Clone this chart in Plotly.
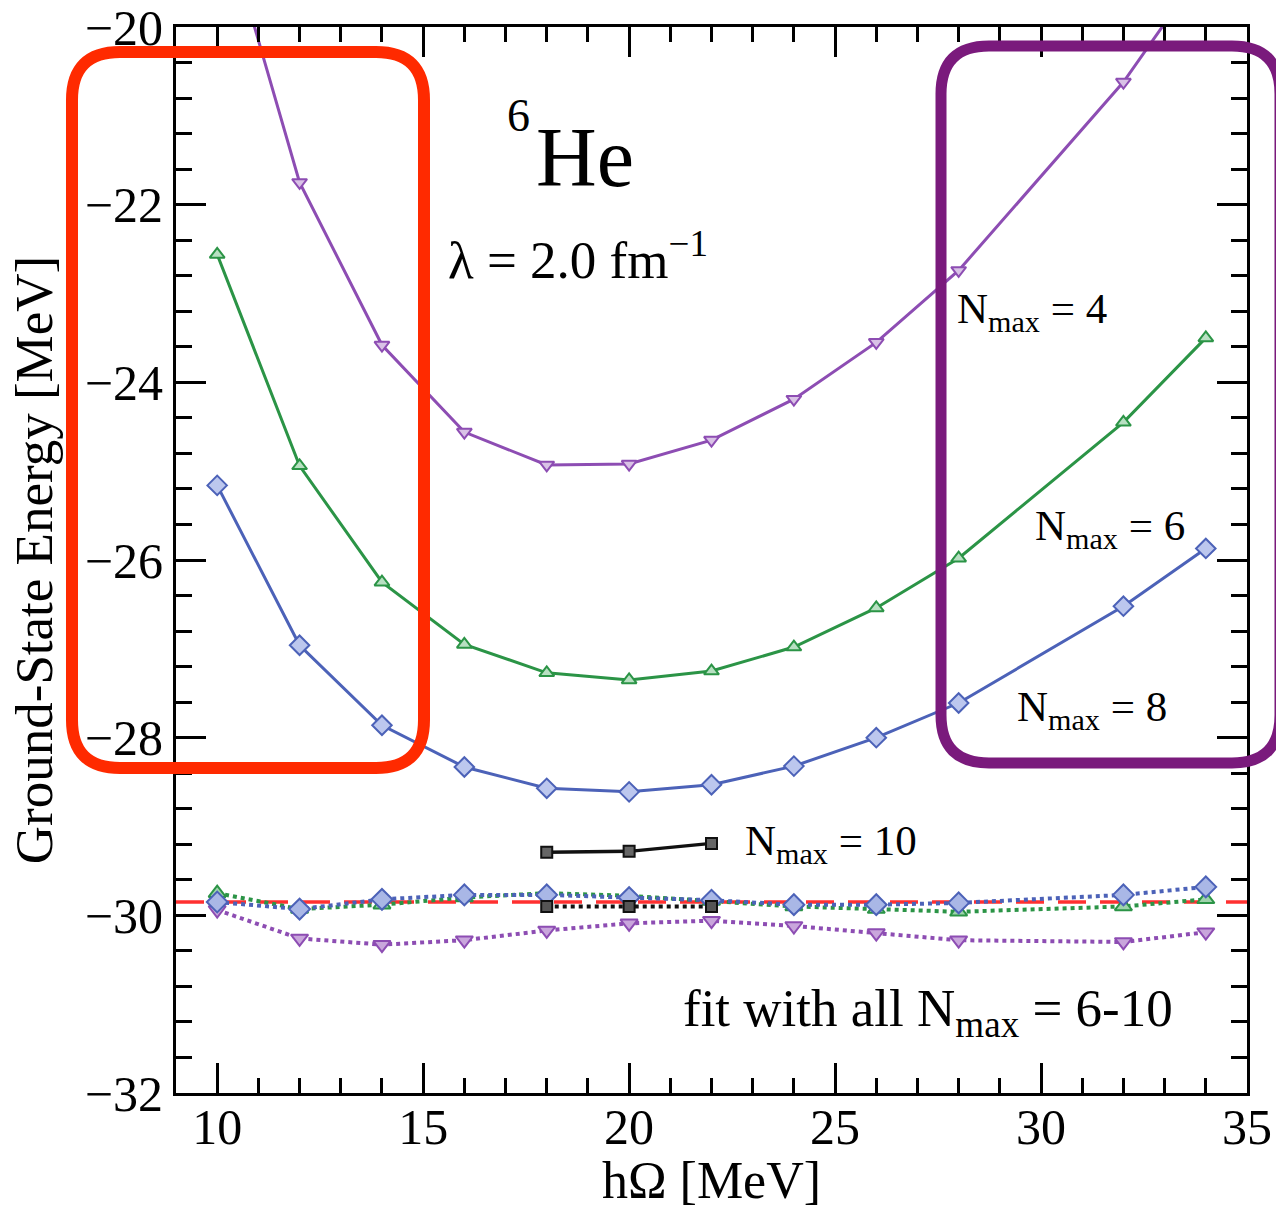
import plotly.graph_objects as go

# ---------------- data ----------------
hw = [10, 12, 14, 16, 18, 20, 22, 24, 26, 28, 32, 34]
e_n4 = [-18.55, -21.75, -23.58, -24.56, -24.93, -24.92, -24.65, -24.19, -23.55, -22.74, -20.62, -19.3]
e_n6 = [-22.56, -24.94, -26.25, -26.95, -27.27, -27.35, -27.25, -26.98, -26.54, -25.98, -24.45, -23.50]
e_n8 = [-25.16, -26.96, -27.86, -28.33, -28.57, -28.61, -28.53, -28.32, -28.00, -27.61, -26.52, -25.87]
hw_n10 = [18, 20, 22]
e_n10 = [-29.29, -29.28, -29.19]

fit_n4 = [-29.94, -30.26, -30.33, -30.28, -30.17, -30.09, -30.06, -30.12, -30.20, -30.28, -30.30, -30.19]
fit_n6 = [-29.75, -29.93, -29.88, -29.80, -29.75, -29.78, -29.84, -29.90, -29.93, -29.96, -29.90, -29.82]
fit_n8 = [-29.85, -29.93, -29.82, -29.77, -29.77, -29.80, -29.83, -29.88, -29.88, -29.86, -29.77, -29.68]
fit_n10 = [-29.90, -29.90, -29.90]

fit_span = [9, 35]
fit_value = [-29.85, -29.85]

# ---------------- styling ----------------
PURPLE = "#8d4db3"
GREEN = "#2b9446"
BLUE = "#4c62b8"
BLACK = "#111111"
FONT = "Liberation Serif"

W, H = 1276, 1209
L, R, T, B = 176, 29, 27, 116
PW, PH = W - L - R, H - T - B

fig = go.Figure()

def mk(symbol, color, fill, size=14):
    return dict(symbol=symbol, size=size, color=fill, line=dict(color=color, width=2))

# fit curves (dotted)
fig.add_trace(go.Scatter(x=fit_span, y=fit_value, mode="lines",
                         line=dict(color="#ff3030", width=3.5, dash="28px,14px")))
fig.add_trace(go.Scatter(x=hw, y=fit_n4, mode="lines+markers",
                         line=dict(color=PURPLE, width=4, dash="dot"),
                         marker=mk("triangle-down", PURPLE, "#c9a6dc", 15)))
fig.add_trace(go.Scatter(x=hw, y=fit_n6, mode="lines+markers",
                         line=dict(color=GREEN, width=4, dash="dot"),
                         marker=mk("triangle-up", GREEN, "#9fd3ac", 15)))
fig.add_trace(go.Scatter(x=hw, y=fit_n8, mode="lines+markers",
                         line=dict(color=BLUE, width=4, dash="dot"),
                         marker=mk("diamond", BLUE, "#a9b7e6", 16)))
fig.add_trace(go.Scatter(x=hw_n10, y=fit_n10, mode="lines+markers",
                         line=dict(color=BLACK, width=4, dash="dot"),
                         marker=mk("square", BLACK, "#555555", 11)))

# raw curves (solid)
fig.add_trace(go.Scatter(x=hw, y=e_n4, mode="lines+markers",
                         line=dict(color=PURPLE, width=3),
                         marker=mk("triangle-down", PURPLE, "#d9c2e6", 13)))
fig.add_trace(go.Scatter(x=hw, y=e_n6, mode="lines+markers",
                         line=dict(color=GREEN, width=3),
                         marker=mk("triangle-up", GREEN, "#b8e0c2", 13)))
fig.add_trace(go.Scatter(x=hw, y=e_n8, mode="lines+markers",
                         line=dict(color=BLUE, width=3),
                         marker=mk("diamond", BLUE, "#bcc7ee", 15)))
fig.add_trace(go.Scatter(x=hw_n10, y=e_n10, mode="lines+markers",
                         line=dict(color=BLACK, width=3.5),
                         marker=mk("square", BLACK, "#666666", 11)))

# ---------------- annotations ----------------
def px2paper(px, py):
    return (px - L) / PW, 1 - (py - T) / PH

def ann(text, px, py, size, xanchor="left"):
    x, y = px2paper(px, py)
    fig.add_annotation(x=x, y=y, xref="paper", yref="paper", text=text,
                       showarrow=False, xanchor=xanchor, yanchor="middle",
                       font=dict(family=FONT, size=size, color="black"))

ann("6", 505, 115, 46)
ann("He", 534, 157, 84)
ann("λ = 2.0 fm<sup>−1</sup>", 446, 256, 53)
ann("N<sub>max</sub> = 4", 955, 312, 43)
ann("N<sub>max</sub> = 6", 1033, 529, 43)
ann("N<sub>max</sub> = 8", 1015, 710, 43)
ann("N<sub>max</sub> = 10", 743, 844, 43)
ann("fit with all N<sub>max</sub> = 6-10", 681, 1012, 53)

# ---------------- rounded rectangles ----------------
def rounded_rect(x0, y0, x1, y1, r):
    def P(px, py):
        x, y = px2paper(px, py)
        return f"{x:.5f},{y:.5f}"
    return (f"M {P(x0 + r, y0)} L {P(x1 - r, y0)} Q {P(x1, y0)} {P(x1, y0 + r)} "
            f"L {P(x1, y1 - r)} Q {P(x1, y1)} {P(x1 - r, y1)} "
            f"L {P(x0 + r, y1)} Q {P(x0, y1)} {P(x0, y1 - r)} "
            f"L {P(x0, y0 + r)} Q {P(x0, y0)} {P(x0 + r, y0)} Z")

fig.add_shape(type="path", xref="paper", yref="paper",
              path=rounded_rect(72, 52, 424, 768, 48),
              line=dict(color="#ff2a00", width=12))
fig.add_shape(type="path", xref="paper", yref="paper",
              path=rounded_rect(941, 46, 1280, 763, 48),
              line=dict(color="#7a1a7c", width=11))

# ---------------- layout ----------------
axis_common = dict(showgrid=False, zeroline=False, showline=True, linecolor="black",
                   linewidth=3, ticks="inside", tickwidth=3, ticklen=30,
                   tickcolor="black", mirror="allticks", automargin=False,
                   ticklabeloverflow="allow",
                   tickfont=dict(family=FONT, size=50, color="black"))

fig.update_xaxes(range=[9, 35], dtick=5, tick0=10, ticklabelstandoff=-12,
                 minor=dict(dtick=1, ticks="inside", ticklen=15, tickwidth=3, tickcolor="black"),
                 title=dict(text="hΩ [MeV]", font=dict(family=FONT, size=52, color="black"), standoff=0),
                 **axis_common)
fig.update_yaxes(range=[-32, -20], dtick=2, tick0=-32,
                 minor=dict(dtick=0.4, ticks="inside", ticklen=16, tickwidth=3, tickcolor="black"),
                 title=dict(text="Ground-State Energy [MeV]", font=dict(family=FONT, size=53, color="black"), standoff=16),
                 **axis_common)

fig.update_layout(width=W, height=H, margin=dict(l=L, r=R, t=T, b=B),
                  paper_bgcolor="white", plot_bgcolor="white", showlegend=False)

fig.write_html("out.html")
